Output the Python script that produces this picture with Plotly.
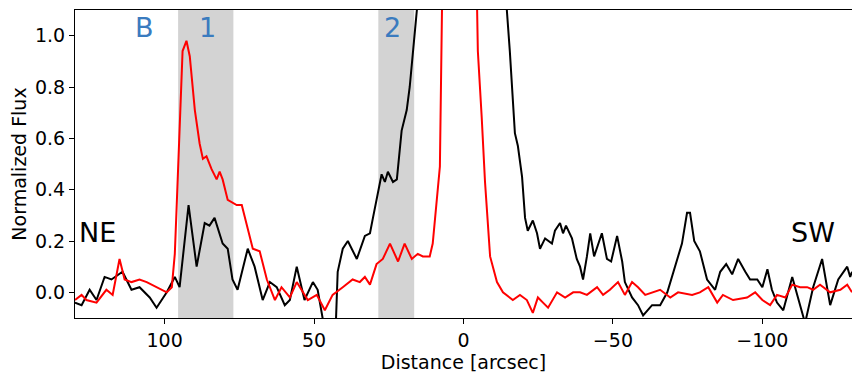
import plotly.graph_objects as go

# black profile
black_x = [130.0, 127.8, 125.1, 122.8, 120.1, 117.8, 114.1, 111.1, 108.4, 105.0,
           102.7, 99.3, 96.6, 95.0, 92.0, 89.3, 86.6, 85.0, 83.3, 80.6,
           78.9, 77.3, 75.6, 72.2, 69.9, 67.2, 64.8, 62.5, 59.8, 58.1,
           55.8, 53.2, 50.4, 48.8, 46.4, 42.8, 42.1, 40.4, 38.7, 35.7,
           33.0, 31.3, 30.3, 28.7, 27.4, 26.3, 25.3, 23.6, 22.3, 20.7,
           19.0, 18.0, 16.9, 15.6, 14.0, 10.0, 5.0, 0.0, -5.0, -10.0,
           -13.0, -14.5, -15.5, -17.2, -18.2, -19.6, -20.6, -21.5, -23.2, -24.6,
           -25.6, -27.3, -29.6, -30.6, -32.3, -33.3, -34.3, -36.3, -37.9, -39.0,
           -40.0, -41.3, -42.4, -43.7, -46.3, -48.0, -49.4, -51.4, -53.1, -54.0,
           -56.4, -58.4, -60.1, -63.1, -65.8, -68.2, -70.8, -73.1, -74.8, -75.8,
           -77.2, -79.1, -81.5, -84.2, -85.9, -87.9, -89.9, -91.9, -94.3, -95.9,
           -98.3, -100.0, -101.7, -103.2, -104.9, -107.0, -110.0, -112.0, -114.3, -117.0,
           -120.0, -122.7, -125.4, -128.4, -129.4, -130.0]
black_y = [-0.04, -0.05, 0.01, -0.03, 0.06, 0.05, 0.08, 0.01, 0.02, -0.02,
           -0.06, 0.00, 0.06, 0.02, 0.34, 0.10, 0.27, 0.26, 0.29, 0.19,
           0.17, 0.05, 0.01, 0.17, 0.10, -0.03, 0.04, 0.02, -0.05, -0.03,
           0.10, -0.03, 0.04, 0.01, -0.15, -0.15, 0.08, 0.17, 0.20, 0.13,
           0.22, 0.23, 0.29, 0.39, 0.46, 0.43, 0.47, 0.43, 0.44, 0.63,
           0.71, 0.80, 0.93, 1.10, 1.40, 2.50, 4.00, 4.50, 4.00, 2.50,
           1.50, 1.10, 0.94, 0.62, 0.57, 0.45, 0.29, 0.24, 0.28, 0.23,
           0.17, 0.21, 0.19, 0.24, 0.27, 0.23, 0.26, 0.21, 0.13, 0.10,
           0.05, 0.14, 0.23, 0.14, 0.23, 0.13, 0.12, 0.22, 0.12, 0.04,
           -0.02, -0.05, -0.09, -0.05, -0.05, 0.00, 0.10, 0.19, 0.31, 0.31,
           0.20, 0.16, 0.05, 0.01, 0.08, 0.11, 0.07, 0.13, 0.08, 0.05,
           0.05, 0.02, 0.09, 0.01, -0.04, -0.07, 0.06, -0.03, -0.12, 0.02,
           0.13, -0.05, 0.05, 0.10, 0.06, 0.08]

# red profile
red_x = [130.0, 127.8, 126.2, 122.8, 119.5, 117.4, 115.1, 113.4, 111.1, 108.4,
         106.0, 102.7, 99.3, 97.6, 96.6, 95.9, 94.0, 92.7, 91.6, 89.9,
         88.3, 87.2, 86.0, 84.3, 82.6, 81.6, 80.6, 78.9, 77.6, 75.9,
         74.2, 72.5, 70.5, 68.2, 65.8, 63.1, 60.9, 58.1, 55.8, 52.1,
         49.1, 46.4, 43.8, 40.4, 37.1, 34.7, 33.0, 31.3, 29.1, 27.0,
         24.6, 21.9, 19.7, 17.3, 15.3, 13.6, 11.3, 10.3, 8.9, 7.9,
         7.2, 6.0, 3.0, 0.0, -2.0, -3.5, -4.4, -4.8, -6.1, -7.2,
         -8.9, -11.2, -13.2, -16.5, -18.9, -21.2, -23.2, -24.9, -26.6, -28.3,
         -31.3, -34.0, -36.7, -39.0, -41.3, -44.7, -46.7, -49.0, -51.7, -54.0,
         -56.4, -58.4, -60.8, -63.4, -65.8, -69.2, -71.8, -76.5, -79.1, -81.9,
         -84.9, -86.8, -90.2, -94.9, -97.6, -100.0, -102.6, -104.9, -107.7, -110.0,
         -112.6, -115.0, -117.0, -119.3, -122.7, -126.1, -128.4, -130.0]
red_y = [-0.03, -0.01, -0.03, -0.04, 0.01, -0.01, 0.13, 0.05, 0.04, 0.05,
         0.04, 0.02, 0.00, 0.02, 0.15, 0.36, 0.94, 0.98, 0.92, 0.71,
         0.58, 0.52, 0.53, 0.48, 0.44, 0.47, 0.44, 0.36, 0.35, 0.34,
         0.34, 0.26, 0.17, 0.16, 0.05, -0.03, 0.02, -0.02, 0.04, -0.03,
         -0.01, -0.07, -0.01, 0.02, 0.05, 0.04, 0.06, 0.03, 0.11, 0.13,
         0.19, 0.12, 0.19, 0.13, 0.15, 0.14, 0.14, 0.19, 0.36, 0.49,
         1.10, 2.00, 4.00, 5.00, 4.00, 1.80, 1.10, 0.94, 0.68, 0.43,
         0.14, 0.04, 0.00, -0.03, -0.01, -0.03, -0.08, -0.02, -0.04, -0.06,
         0.00, -0.02, 0.00, 0.00, -0.01, 0.02, -0.01, 0.01, 0.04, -0.01,
         0.04, 0.02, -0.01, 0.00, 0.01, -0.02, 0.00, -0.01, 0.00, 0.02,
         -0.04, -0.01, -0.03, -0.02, 0.00, -0.03, -0.05, -0.01, -0.02, 0.03,
         0.02, 0.02, 0.01, 0.03, 0.00, 0.01, 0.03, 0.00]

# shaded apertures
bands = [(95.5, 77.0), (28.5, 16.5)]
# region labels
labels = ["B", "1", "2"]
label_x = [106.7, 85.6, 23.7]
side_labels = ["NE", "SW"]
side_x = [122.4, -117.0]

FONT = "DejaVu Sans"
BLUE = "#3a7bbf"

fig = go.Figure()
fig.add_trace(go.Scatter(x=black_x, y=black_y, mode="lines",
                         line=dict(color="black", width=2), showlegend=False))
fig.add_trace(go.Scatter(x=red_x, y=red_y, mode="lines",
                         line=dict(color="red", width=2), showlegend=False))

for x0, x1 in bands:
    fig.add_vrect(x0=x0, x1=x1, fillcolor="#d3d3d3", opacity=1,
                  line_width=0, layer="below")

for t, x in zip(labels, label_x):
    fig.add_annotation(x=x, y=1.03, text=t, showarrow=False,
                       font=dict(family=FONT, size=27, color=BLUE))
for t, x in zip(side_labels, side_x):
    fig.add_annotation(x=x, y=0.235, text=t, showarrow=False,
                       font=dict(family=FONT, size=27, color="black"))

axis_style = dict(showline=True, linecolor="black", linewidth=1.1, mirror=True,
                  ticks="outside", ticklen=5, tickwidth=1.1, tickcolor="black",
                  showgrid=False, zeroline=False, automargin=False,
                  tickfont=dict(family=FONT, size=19, color="black"))

fig.update_xaxes(range=[130, -130], tickvals=[100, 50, 0, -50, -100],
                 ticktext=["100", "50", "0", "\u221250", "\u2212100"],
                 title=dict(text="Distance [arcsec]", standoff=2,
                            font=dict(family=FONT, size=19, color="black")),
                 **axis_style)
fig.update_yaxes(range=[-0.1, 1.1], tickvals=[0, 0.2, 0.4, 0.6, 0.8, 1.0],
                 ticktext=["0.0", "0.2", "0.4", "0.6", "0.8", "1.0"],
                 title=dict(text="Normalized Flux", standoff=6,
                            font=dict(family=FONT, size=19, color="black")),
                 **axis_style)

# page body adds an 8px offset, so the figure is a bit smaller than the window
fig.update_layout(width=852, height=373, plot_bgcolor="white", paper_bgcolor="white",
                  margin=dict(l=67, r=8, t=2, b=63))

fig.write_html("out.html")
